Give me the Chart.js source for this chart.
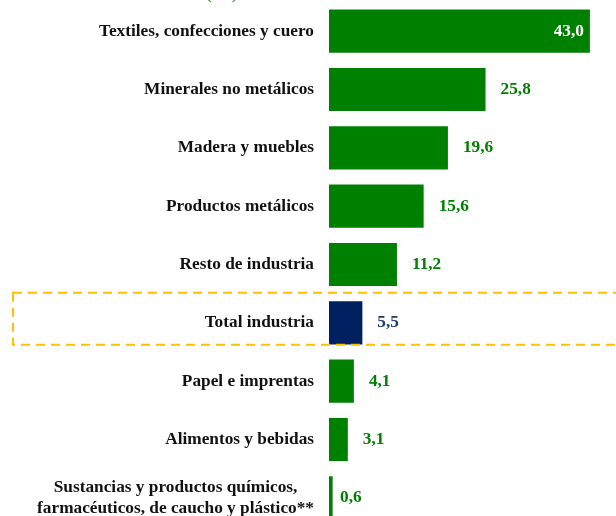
<!DOCTYPE html>
<html>
<head>
<meta charset="utf-8">
<script src="https://cdn.jsdelivr.net/npm/chart.js@4"></script>
<style>
  html, body { margin: 0; padding: 0; background: #fff; overflow: hidden; }
  #wrap { position: relative; width: 616px; height: 528px; }
  #titulo {
    position: absolute; left: 205px; top: -20px;
    font: bold 20px "Liberation Serif", serif; color: #4caf50;
  }
</style>
</head>
<body>
<div id="wrap">
  <div id="titulo">(%)</div>
  <canvas id="grafico"></canvas>
</div>
<script>
// Datos del gráfico
const categorias = [
    'Textiles, confecciones y cuero',
    'Minerales no metálicos',
    'Madera y muebles',
    'Productos metálicos',
    'Resto de industria',
    'Total industria',
    'Papel e imprentas',
    'Alimentos y bebidas',
    ['Sustancias y productos químicos,', 'farmacéuticos, de caucho y plástico**']
];
const valores = [43.0, 25.8, 19.6, 15.6, 11.2, 5.5, 4.1, 3.1, 0.6];
const coloresBarras = ['#008000', '#008000', '#008000', '#008000', '#008000', '#002060', '#008000', '#008000', '#008000'];
const coloresEtiquetas = ['#ffffff', '#008000', '#008000', '#008000', '#008000', '#1f3a6e', '#008000', '#008000', '#008000'];
const categoriaResaltada = 5;

const fuente = '"Liberation Serif", serif';

// Etiquetas del eje Y (alineadas a la derecha, multilínea centrada)
const etiquetasEjeY = {
    id: 'etiquetasEjeY',
    afterDraw(chart) {
        const ctx = chart.ctx;
        const y = chart.scales.y;
        const derecha = chart.chartArea.left - 15;
        ctx.save();
        ctx.font = 'bold 17.3px ' + fuente;
        ctx.fillStyle = '#111111';
        ctx.textBaseline = 'middle';
        categorias.forEach((cat, i) => {
            const yc = y.getPixelForValue(i);
            if (Array.isArray(cat)) {
                const ancho = Math.max(...cat.map(l => ctx.measureText(l).width));
                const xc = derecha - ancho / 2;
                ctx.textAlign = 'center';
                const alto = 21;
                cat.forEach((linea, j) => {
                    ctx.fillText(linea, xc, yc + (j - (cat.length - 1) / 2) * alto);
                });
            } else {
                ctx.textAlign = 'right';
                ctx.fillText(cat, derecha, yc);
            }
        });
        ctx.restore();
    }
};

// Valores sobre las barras
const etiquetasValor = {
    id: 'etiquetasValor',
    afterDatasetsDraw(chart) {
        const ctx = chart.ctx;
        const meta = chart.getDatasetMeta(0);
        const izq = chart.chartArea.left;
        ctx.save();
        ctx.font = 'bold 17.3px ' + fuente;
        ctx.textBaseline = 'middle';
        meta.data.forEach((barra, i) => {
            const texto = valores[i].toFixed(1).replace('.', ',');
            ctx.fillStyle = coloresEtiquetas[i];
            if (i === 0) {
                ctx.textAlign = 'right';
                ctx.fillText(texto, barra.x - 6, barra.y);
            } else {
                ctx.textAlign = 'left';
                // barras muy finas: etiqueta más cerca
                const x = (barra.x - izq < 10) ? izq + 11 : barra.x + 15;
                ctx.fillText(texto, x, barra.y);
            }
        });
        ctx.restore();
    }
};

// Recuadro punteado alrededor de "Total industria"
const recuadro = {
    id: 'recuadro',
    afterDatasetsDraw(chart) {
        const ctx = chart.ctx;
        const y = chart.scales.y.getPixelForValue(categoriaResaltada);
        ctx.save();
        ctx.strokeStyle = '#ffc000';
        ctx.lineWidth = 2;
        ctx.setLineDash([9, 6]);
        ctx.strokeRect(13, y - 30, 620, 52);
        ctx.restore();
    }
};

const ctx = document.getElementById('grafico').getContext('2d');
const chart = new Chart(ctx, {
    type: 'bar',
    data: {
        labels: categorias,
        datasets: [{
            data: valores,
            backgroundColor: coloresBarras,
            borderWidth: 0,
            categoryPercentage: 1,
            barPercentage: 0.74
        }]
    },
    options: {
        indexAxis: 'y',
        responsive: true,
        maintainAspectRatio: false,
        animation: false,
        layout: { padding: { top: 2, bottom: 1, left: 0, right: 0 } },
        plugins: {
            legend: { display: false },
            tooltip: { enabled: false }
        },
        scales: {
            x: {
                display: false,
                min: 0,
                max: 47.3
            },
            y: {
                grid: { display: false },
                border: { display: false },
                ticks: { display: false },
                afterFit(scale) { scale.width = 329; }
            }
        }
    },
    plugins: [recuadro, etiquetasValor, etiquetasEjeY]
});
</script>
</body>
</html>
